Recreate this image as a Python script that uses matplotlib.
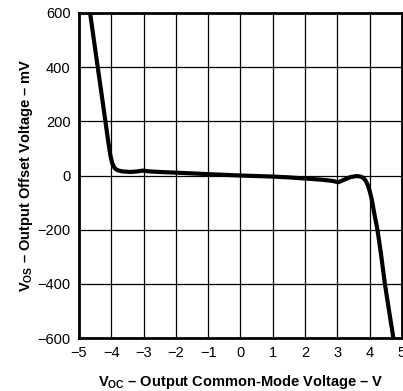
import matplotlib
matplotlib.use('Agg')
import matplotlib.pyplot as plt

# Output offset voltage vs output common-mode voltage
voc = [-4.68, -4.55, -4.42, -4.3, -4.2, -4.1, -4.03, -3.97, -3.9, -3.82, -3.66,
       -3.4, -3.2, -3.04, -2.8, -2.5, -1.9, -1.0, 0.0, 1.0, 1.5, 2.0, 2.56,
       2.85, 3.03, 3.2, 3.4, 3.6, 3.72, 3.8, 3.87, 3.94, 4.0, 4.06, 4.15,
       4.24, 4.35, 4.47, 4.6, 4.76]
vos = [620, 510, 400, 300, 215, 130, 75, 45, 28, 20, 15,
       13, 15, 18, 15, 13, 10, 5, 0, -4, -7, -11, -16,
       -20, -25, -16, -6, -2, -4, -9, -18, -35, -58, -86, -145,
       -200, -290, -400, -500, -620]

xticks = [-5, -4, -3, -2, -1, 0, 1, 2, 3, 4, 5]
yticks = [-600, -400, -200, 0, 200, 400, 600]

plt.rcParams['font.family'] = ['Liberation Sans', 'DejaVu Sans']
plt.rcParams['mathtext.fontset'] = 'custom'
plt.rcParams['mathtext.rm'] = 'Liberation Sans:bold'
plt.rcParams['mathtext.it'] = 'Liberation Sans:bold'
plt.rcParams['mathtext.bf'] = 'Liberation Sans:bold'

fig = plt.figure(figsize=(4.03, 3.91), dpi=100)
ax = fig.add_axes([0.196, 0.1355, 0.8015, 0.8313])

ax.plot(voc, vos, color='black', lw=3, solid_joinstyle='round', solid_capstyle='butt')

ax.set_xlim(-5, 5)
ax.set_ylim(-600, 600)
ax.set_xticks(xticks)
ax.set_yticks(yticks)
ax.grid(True, color='black', lw=0.9)
ax.tick_params(length=0, labelsize=10.5, pad=6, colors='black')
for s in ax.spines.values():
    s.set_linewidth(2)

ax.set_xlabel(r'$\mathrm{V_{OC}}$ – Output Common-Mode Voltage – V',
              fontsize=10.5, fontweight='bold', labelpad=9)
ax.set_ylabel(r'$\mathrm{V_{OS}}$ – Output Offset Voltage – mV',
              fontsize=10.5, fontweight='bold', labelpad=2)

fig.savefig('out.png', dpi=100)
